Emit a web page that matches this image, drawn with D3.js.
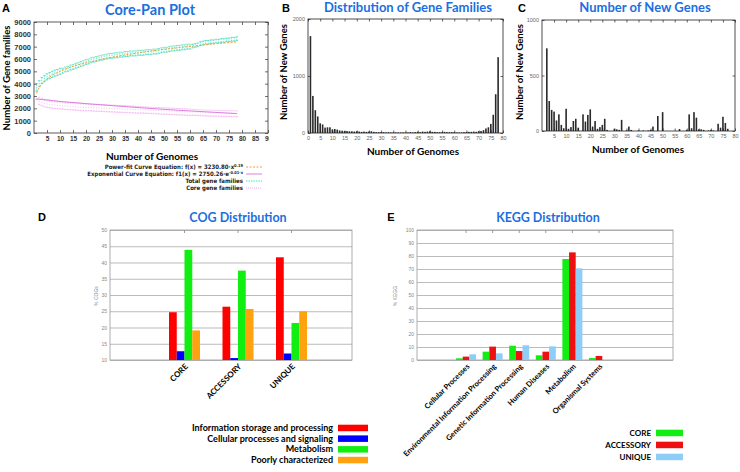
<!DOCTYPE html>
<html>
<head>
<meta charset="utf-8">
<script src="https://cdn.jsdelivr.net/npm/d3@7"></script>
<style>
body{margin:0;background:#fff}
svg{display:block}
</style>
</head>
<body>
<svg id="fig" width="740" height="472"></svg>
<script>
// ---------- data ----------
// A: core-pan plot (genome counts 1..78)
const genomes = d3.range(1, 79)
const panMean = [3700,4000,4250,4400,4550,4650,4750,4850,4900,5000,
  5050,5150,5200,5300,5350,5450,5500,5600,5650,5750,
  5800,5900,5950,6000,6050,6100,6150,6200,6250,6250,
  6300,6300,6350,6350,6400,6400,6450,6450,6450,6500,
  6500,6500,6550,6550,6550,6600,6600,6650,6700,6750,
  6750,6800,6850,6850,6900,6900,6950,6950,7000,7000,
  7050,7100,7150,7250,7300,7350,7350,7400,7400,7450,
  7450,7500,7500,7550,7550,7600,7600,7650]
const panSpread = [300,250,250,250,250,250,250,250,250,250,
  200,200,200,200,200,200,200,200,200,200,
  200,200,200,200,200,200,200,200,200,200,
  200,200,200,200,200,200,200,200,200,200,
  200,200,200,200,200,200,200,200,200,200,
  200,200,200,200,200,200,200,200,200,200,
  150,150,150,150,150,150,150,150,150,150,
  150,150,150,150,150,150,150,150]
const coreMean = [2750,2600,2500,2420,2370,2330,2300,2280,2260,2240,
  2220,2200,2190,2170,2160,2140,2130,2110,2100,2090,
  2080,2060,2050,2040,2030,2020,2010,2000,1990,1980,
  1970,1960,1950,1940,1930,1920,1910,1900,1890,1880,
  1870,1860,1850,1840,1830,1820,1810,1800,1790,1780,
  1770,1760,1750,1740,1730,1720,1710,1700,1690,1680,
  1670,1660,1650,1640,1630,1620,1610,1600,1600,1590,
  1590,1580,1580,1570,1570,1560,1560,1550]
const coreSpread = [50,300,300,300,300,300,300,300,300,300,
  300,300,300,300,300,300,300,300,300,300,
  280,280,280,280,280,280,280,280,280,280,
  280,280,280,280,280,280,280,280,280,280,
  260,260,260,260,260,260,260,260,260,260,
  260,260,260,260,260,260,260,260,260,260,
  240,240,240,240,240,240,240,240,240,240,
  240,240,240,240,240,240,240,240]
const fitX = [1,2,3,5,10,15,20,25,30,35,40,45,50,55,60,65,70,75,78]
const powerFit = [3230,3680,3980,4380,4990,5400,5690,5940,6150,6330,6490,6640,6780,6900,7020,7130,7240,7330,7390]
const expFit = [2750,2730,2710,2680,2560,2470,2380,2300,2220,2140,2060,1990,1920,1850,1790,1730,1670,1610,1570]

// B: distribution of gene families (genome counts 1..78)
const famCounts = [1700,650,400,290,170,150,95,100,100,65,
  70,60,45,40,35,35,30,30,25,30,
  25,20,25,20,25,30,20,15,15,15,
  15,10,15,10,10,10,10,10,10,10,
  10,15,10,15,20,15,25,20,25,30,
  20,20,15,15,15,20,15,15,15,15,
  10,10,10,15,15,20,20,25,20,30,
  35,50,80,100,160,320,680,1330]

// C: number of new genes (genome counts 1..78)
const newGenes = [0,745,270,190,175,95,150,55,25,200,
  20,35,90,110,30,0,150,85,145,195,
  40,90,20,35,55,110,10,0,0,20,
  15,10,100,0,5,40,10,0,0,5,
  0,5,0,5,10,40,0,135,0,170,
  0,0,0,0,0,0,18,0,0,10,
  150,25,170,120,15,15,10,0,5,10,
  5,0,65,30,128,72,20,0]

// D: COG distribution (%)
const cogGroups = ["CORE", "ACCESSORY", "UNIQUE"]
const cogNames = ["Information storage and processing", "Cellular processes and signaling", "Metabolism", "Poorly characterized"]
const cogInfo = [24.7, 26.4, 41.6]
const cogCell = [12.7, 10.6, 12.0]
const cogMetab = [43.9, 37.5, 21.4]
const cogPoor = [19.1, 25.7, 25.0]
const cogTicks = [10, 15, 20, 25, 30, 35, 40, 45, 50]

// E: KEGG distribution (%)
const keggCats = ["Cellular Processes", "Environmental Information Processing", "Genetic Information Processing", "Human Diseases", "Metabolism", "Organismal Systems"]
const keggSets = ["CORE", "ACCESSORY", "UNIQUE"]
const keggCore = [1.3, 6.4, 11.0, 3.6, 77.7, 1.5]
const keggAcc = [2.6, 10.3, 6.9, 6.4, 82.8, 3.1]
const keggUnique = [4.4, 5.1, 11.3, 10.5, 70.5, 0]
const keggTicks = [0, 10, 20, 30, 40, 50, 60, 70, 80, 90, 100]

// ---------- drawing ----------
const svg = d3.select("#fig")
const blue = "#1b6fe0"
const title = "Lato, 'Open Sans', sans-serif"
const arial = "'Liberation Sans', Arial, sans-serif"
const narrow = "'Liberation Sans Narrow', 'DejaVu Sans Condensed', sans-serif"
const fmt = d3.format("d")

function txt(g, x, y, s, size, opts = {}) {
    return g.append("text")
        .attr("x", x).attr("y", y)
        .attr("font-family", opts.family || title)
        .attr("font-size", size)
        .attr("font-weight", opts.weight || "bold")
        .attr("fill", opts.fill || "#000")
        .attr("text-anchor", opts.anchor || "middle")
        .attr("transform", opts.rot ? `rotate(${opts.rot},${x},${y})` : null)
        .text(s)
}

// box with ticks inside on every side
function box(g, x, y, o) {
    const [x0, x1] = x.range(), [yb, yt] = y.range()
    g.append("rect").attr("x", x0).attr("y", yt).attr("width", x1 - x0).attr("height", yb - yt)
        .attr("fill", "none").attr("stroke", o.stroke).attr("stroke-width", 0.8)
    const bottom = g.append("g").attr("transform", `translate(0,${yb})`)
        .call(d3.axisBottom(x).tickValues(o.xt).tickSize(-o.ts).tickPadding(o.xpad).tickFormat(fmt))
    const top = g.append("g").attr("transform", `translate(0,${yt})`)
        .call(d3.axisTop(x).tickValues(o.xt).tickSize(-o.ts).tickFormat(""))
    const left = g.append("g").attr("transform", `translate(${x0},0)`)
        .call(d3.axisLeft(y).tickValues(o.yt).tickSize(-o.ts).tickPadding(o.ypad).tickFormat(fmt))
    const right = g.append("g").attr("transform", `translate(${x1},0)`)
        .call(d3.axisRight(y).tickValues(o.yt).tickSize(-o.ts).tickFormat(""))
    for (const a of [bottom, top, left, right]) {
        a.select(".domain").remove()
        a.selectAll("line").attr("stroke", o.stroke).attr("stroke-width", 0.7)
        a.selectAll("text").attr("font-family", arial).attr("fill", o.label)
            .attr("font-weight", o.weight || "normal")
    }
    bottom.selectAll("text").attr("font-size", o.xfs)
    left.selectAll("text").attr("font-size", o.yfs)
}

// ===== Panel A =====
const gA = svg.append("g")
const xA = d3.scaleLinear().domain([0, 90]).range([34, 268])
const yA = d3.scaleLinear().domain([0, 9000]).range([133, 22])

// core error bars (dotted pink)
gA.selectAll("line.core").data(genomes).join("line").attr("class", "core")
    .attr("x1", d => xA(d)).attr("x2", d => xA(d))
    .attr("y1", (d, i) => yA(coreMean[i] - coreSpread[i]))
    .attr("y2", (d, i) => yA(coreMean[i] + coreSpread[i]))
    .attr("stroke", "#f2a6ee").attr("stroke-width", 0.7).attr("stroke-dasharray", "1,2")
gA.selectAll("line.corecap").data(genomes.flatMap((d, i) => [[d, coreMean[i] - coreSpread[i]], [d, coreMean[i] + coreSpread[i]]]))
    .join("line").attr("class", "corecap")
    .attr("x1", d => xA(d[0]) - 1.2).attr("x2", d => xA(d[0]) + 1.2)
    .attr("y1", d => yA(d[1])).attr("y2", d => yA(d[1]))
    .attr("stroke", "#f2a6ee").attr("stroke-width", 0.6)

// pan error bars (cyan)
gA.selectAll("line.pan").data(genomes).join("line").attr("class", "pan")
    .attr("x1", d => xA(d)).attr("x2", d => xA(d))
    .attr("y1", (d, i) => yA(panMean[i] - panSpread[i]))
    .attr("y2", (d, i) => yA(panMean[i] + panSpread[i]))
    .attr("stroke", "#3fe3cf").attr("stroke-width", 0.8).attr("stroke-dasharray", "1.5,1")
gA.selectAll("line.pancap").data(genomes.flatMap((d, i) => [[d, panMean[i] - panSpread[i]], [d, panMean[i] + panSpread[i]]]))
    .join("line").attr("class", "pancap")
    .attr("x1", d => xA(d[0]) - 1.3).attr("x2", d => xA(d[0]) + 1.3)
    .attr("y1", d => yA(d[1])).attr("y2", d => yA(d[1]))
    .attr("stroke", "#45d9b0").attr("stroke-width", 0.7)

const fitLine = d3.line().x(d => xA(d[0])).y(d => yA(d[1])).curve(d3.curveMonotoneX)
gA.append("path").datum(fitX.map((d, i) => [d, powerFit[i]])).attr("d", fitLine)
    .attr("fill", "none").attr("stroke", "#f0a030").attr("stroke-width", 1).attr("stroke-dasharray", "2,1.5")
gA.append("path").datum(fitX.map((d, i) => [d, expFit[i]])).attr("d", fitLine)
    .attr("fill", "none").attr("stroke", "#dd80dd").attr("stroke-width", 1)

box(gA, xA, yA, {stroke: "#333", label: "#333", weight: "bold", ts: 3,
    xt: d3.range(5, 95, 5), yt: d3.range(0, 10000, 1000), xpad: 3, ypad: 3, xfs: 6.5, yfs: 7.5})

txt(gA, 6, 12, "A", 11, {family: arial})
txt(gA, 150, 15, "Core-Pan Plot", 14.5, {fill: blue})
txt(gA, 10, 78, "Number of Gene families", 9.5, {rot: -90})
txt(gA, 152, 160, "Number of Genomes", 10)

// legend A
const legA = [
    {main: "Power-fit Curve Equation: f(x) = 3230.80·x", sup: "0.19", color: "#f0a030", dash: "2,1.5"},
    {main: "Exponential Curve Equation:   f1(x) = 2750.26·e", sup: "-0.01·x", color: "#dd80dd", dash: null},
    {main: "Total gene families", sup: "", color: "#3fe3cf", dash: "1.5,1"},
    {main: "Core gene families", sup: "", color: "#f2a6ee", dash: "1,1"}
]
legA.forEach((d, i) => {
    const y = 169 + i * 7
    const t = gA.append("text").attr("x", 243).attr("y", y).attr("text-anchor", "end")
        .attr("font-family", narrow).attr("font-size", 6).attr("font-weight", "bold").attr("fill", "#222")
    t.append("tspan").text(d.main)
    if (d.sup) t.append("tspan").attr("dy", -2.5).attr("font-size", 4).text(d.sup)
    gA.append("line").attr("x1", 246).attr("x2", 262).attr("y1", y - 2).attr("y2", y - 2)
        .attr("stroke", d.color).attr("stroke-width", 1).attr("stroke-dasharray", d.dash)
})

// white backing for B/C (clips panel A on the right)
svg.append("rect").attr("x", 269).attr("y", 0).attr("width", 471).attr("height", 165).attr("fill", "#fff")

// ===== Panel B =====
const gB = svg.append("g")
const xB = d3.scaleLinear().domain([0, 80]).range([308, 503])
const yB = d3.scaleLinear().domain([0, 2000]).range([133, 19])
gB.selectAll("rect.bar").data(genomes).join("rect").attr("class", "bar")
    .attr("x", d => xB(d) - 0.8).attr("width", 1.6)
    .attr("y", (d, i) => yB(famCounts[i]))
    .attr("height", (d, i) => yB(0) - yB(famCounts[i]))
    .attr("fill", "#2a2a2a")
box(gB, xB, yB, {stroke: "#222", label: "#666", ts: 2.5,
    xt: d3.range(0, 85, 5), yt: [0, 1000, 2000], xpad: 3, ypad: 3, xfs: 5.5, yfs: 5.5})
txt(gB, 286, 12, "B", 11, {family: arial})
txt(gB, 408, 12, "Distribution of Gene Families", 13, {fill: blue})
txt(gB, 287, 72, "Number of New Genes", 9.5, {rot: -90})
txt(gB, 413, 155, "Number of Genomes", 10)

// ===== Panel C =====
const gC = svg.append("g")
const xC = d3.scaleLinear().domain([0, 80]).range([542, 735])
const yC = d3.scaleLinear().domain([0, 1000]).range([131, 20])
gC.selectAll("rect.bar").data(genomes).join("rect").attr("class", "bar")
    .attr("x", d => xC(d) - 0.8).attr("width", 1.6)
    .attr("y", (d, i) => yC(newGenes[i]))
    .attr("height", (d, i) => yC(0) - yC(newGenes[i]))
    .attr("fill", "#2a2a2a")
box(gC, xC, yC, {stroke: "#222", label: "#666", ts: 2.5,
    xt: d3.range(5, 85, 5), yt: [0, 500, 1000], xpad: 3, ypad: 3, xfs: 5.5, yfs: 5.5})
txt(gC, 522, 12, "C", 11, {family: arial})
txt(gC, 645, 12, "Number of New Genes", 13, {fill: blue})
txt(gC, 523, 72, "Number of New Genes", 9.5, {rot: -90})
txt(gC, 638, 153, "Number of Genomes", 10)

// ===== Panel D =====
const top2 = 230, bot2 = 360
const gD = svg.append("g")
const xD = d3.scaleBand().domain(cogGroups).range([157.75, 318.25])
const yD = d3.scaleLinear().domain([10, 50]).range([bot2, top2])
const cogSeries = [cogInfo, cogCell, cogMetab, cogPoor]
const cogColors = ["#ff0000", "#0000ff", "#11ee11", "#ffa20f"]
const xD1 = d3.scaleBand().domain(d3.range(4)).range([-15.5, 15.5])

gD.append("g").attr("transform", "translate(110,0)")
    .call(d3.axisLeft(yD).tickValues(cogTicks).tickSize(-242).tickPadding(3))
    .call(a => a.select(".domain").remove())
    .call(a => a.selectAll("line").attr("stroke", "#aaa").attr("stroke-width", 0.8))
    .call(a => a.selectAll("text").attr("font-family", arial).attr("font-size", 5).attr("fill", "#888"))
gD.append("rect").attr("x", 110).attr("y", top2).attr("width", 242).attr("height", bot2 - top2)
    .attr("fill", "none").attr("stroke", "#999").attr("stroke-width", 0.8)
gD.append("g").selectAll("line").data(cogGroups).join("line")
    .attr("x1", d => xD(d) + xD.bandwidth() / 2).attr("x2", d => xD(d) + xD.bandwidth() / 2)
    .attr("y1", top2).attr("y2", top2 + 3).attr("stroke", "#999")

cogSeries.forEach((vals, s) => {
    gD.selectAll(`rect.s${s}`).data(cogGroups).join("rect").attr("class", `s${s}`)
        .attr("x", d => xD(d) + xD.bandwidth() / 2 + xD1(s))
        .attr("width", xD1.bandwidth())
        .attr("y", (d, i) => yD(vals[i]))
        .attr("height", (d, i) => yD(10) - yD(vals[i]))
        .attr("fill", cogColors[s])
})
cogGroups.forEach(d => {
    txt(gD, xD(d) + xD.bandwidth() / 2 + 4, bot2 + 7, d, 8, {anchor: "end", rot: -45})
})
txt(gD, 42, 221, "D", 11, {family: arial})
txt(gD, 238, 222, "COG Distribution", 12.5, {fill: blue})
txt(gD, 98, 296, "% COGs", 5, {rot: -90, weight: "normal", fill: "#888", family: arial})

cogNames.forEach((d, i) => {
    const y = 431 + i * 10.7
    txt(gD, 333, y, d, 9, {anchor: "end"})
    gD.append("rect").attr("x", 338).attr("y", y - 6.3).attr("width", 30).attr("height", 6.5).attr("fill", cogColors[i])
})

// ===== Panel E =====
const gE = svg.append("g")
const xE = d3.scaleBand().domain(keggCats).range([452.75, 612.25])
const yE = d3.scaleLinear().domain([0, 100]).range([bot2, top2])
const keggSeries = [keggCore, keggAcc, keggUnique]
const keggColors = ["#11ee11", "#ee1111", "#8ecdf7"]
const xE1 = d3.scaleBand().domain(d3.range(3)).range([-10, 10])

gE.append("g").attr("transform", "translate(417,0)")
    .call(d3.axisLeft(yE).tickValues(keggTicks).tickSize(-256).tickPadding(3))
    .call(a => a.select(".domain").remove())
    .call(a => a.selectAll("line").attr("stroke", "#aaa").attr("stroke-width", 0.8))
    .call(a => a.selectAll("text").attr("font-family", arial).attr("font-size", 5).attr("fill", "#888"))
gE.append("rect").attr("x", 417).attr("y", top2).attr("width", 256).attr("height", bot2 - top2)
    .attr("fill", "none").attr("stroke", "#999").attr("stroke-width", 0.8)
gE.append("g").selectAll("line").data(keggCats).join("line")
    .attr("x1", d => xE(d) + xE.bandwidth() / 2).attr("x2", d => xE(d) + xE.bandwidth() / 2)
    .attr("y1", top2).attr("y2", top2 + 3).attr("stroke", "#999")

keggSeries.forEach((vals, s) => {
    gE.selectAll(`rect.s${s}`).data(keggCats).join("rect").attr("class", `s${s}`)
        .attr("x", d => xE(d) + xE.bandwidth() / 2 + xE1(s))
        .attr("width", xE1.bandwidth())
        .attr("y", (d, i) => yE(vals[i]))
        .attr("height", (d, i) => yE(0) - yE(vals[i]))
        .attr("fill", keggColors[s])
})
keggCats.forEach(d => {
    txt(gE, xE(d) + xE.bandwidth() / 2 + 4, bot2 + 7, d, 7.5, {anchor: "end", rot: -45})
})
txt(gE, 391, 221, "E", 11, {family: arial})
txt(gE, 548, 222, "KEGG Distribution", 12.5, {fill: blue})
txt(gE, 397, 296, "% KEGG", 5, {rot: -90, weight: "normal", fill: "#888", family: arial})

keggSets.forEach((d, i) => {
    const y = 436 + i * 12
    txt(gE, 651, y, d, 8, {anchor: "end"})
    gE.append("rect").attr("x", 656).attr("y", y - 6.3).attr("width", 27).attr("height", 6.5).attr("fill", keggColors[i])
})
</script>
</body>
</html>
